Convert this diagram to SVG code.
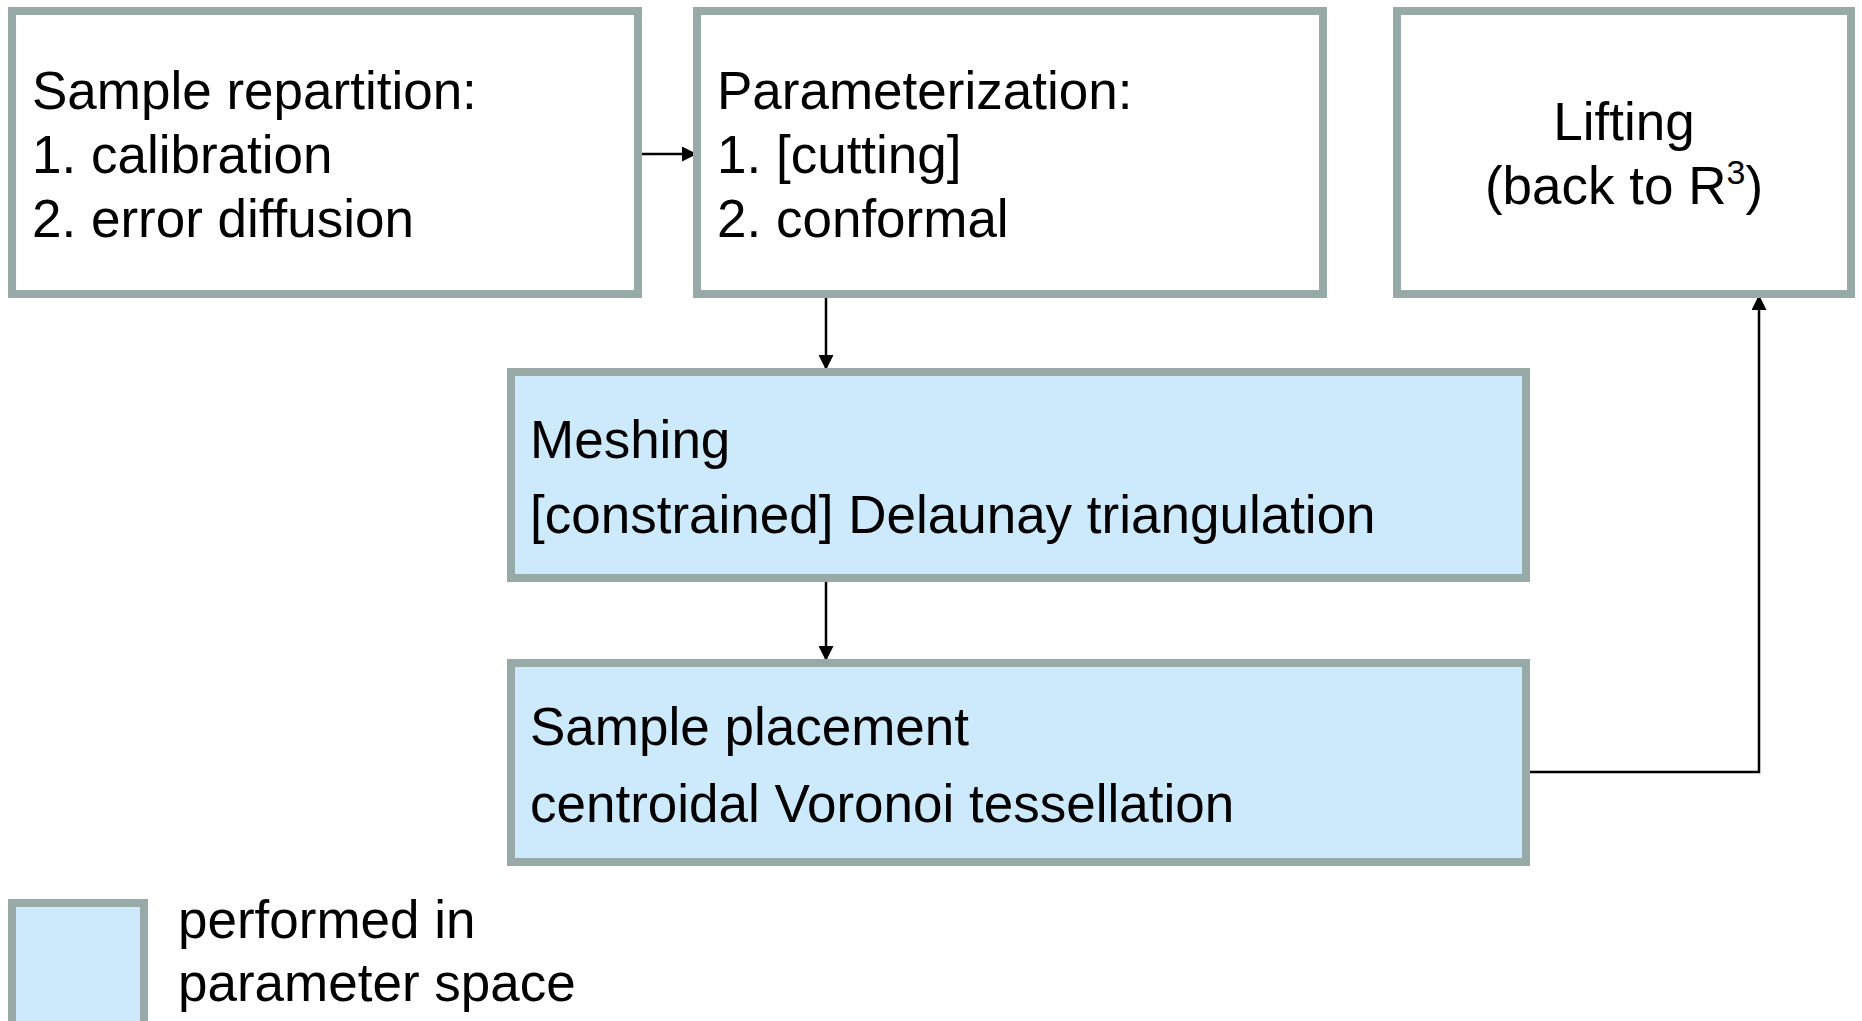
<svg xmlns="http://www.w3.org/2000/svg" width="1862" height="1021" viewBox="0 0 1862 1021">
<style>
.box{fill:#ffffff;stroke:#97aaa8;stroke-width:8}
.blue{fill:#cdeafc;stroke:#97aaa8;stroke-width:8}
.t{font-family:"Liberation Sans",Arial,sans-serif;font-size:53px;fill:#000}
.c{text-anchor:middle}
.conn{fill:none;stroke:#000;stroke-width:2.5}
</style>
<defs>
<marker id="ah" viewBox="0 0 15 15" refX="15" refY="7.5" markerWidth="15" markerHeight="15" markerUnits="userSpaceOnUse" orient="auto">
<path d="M0,0 L15,7.5 L0,15 z" fill="#000"/>
</marker>
</defs>
<rect width="1862" height="1021" fill="#fff"/>
<g id="connectors">
<line class="conn" x1="642" y1="154" x2="697" y2="154" marker-end="url(#ah)"/>
<line class="conn" x1="826" y1="298" x2="826" y2="370" marker-end="url(#ah)"/>
<line class="conn" x1="826" y1="582" x2="826" y2="661" marker-end="url(#ah)"/>
<polyline class="conn" points="1530,772 1759,772 1759,295" marker-end="url(#ah)"/>
</g>
<g id="sample-repartition">
<rect class="box" x="12" y="11" width="626" height="283"/>
<text class="t" x="32" y="109">Sample repartition:</text>
<text class="t" x="32" y="173">1. calibration</text>
<text class="t" x="32" y="237">2. error diffusion</text>
</g>
<g id="parameterization">
<rect class="box" x="697" y="11" width="626" height="283"/>
<text class="t" x="717" y="109">Parameterization:</text>
<text class="t" x="717" y="173">1. [cutting]</text>
<text class="t" x="717" y="237">2. conformal</text>
</g>
<g id="lifting">
<rect class="box" x="1397" y="11" width="454" height="283"/>
<text class="t c" x="1624" y="140">Lifting</text>
<text class="t c" x="1624" y="204">(back to R<tspan font-size="34" dy="-20">3</tspan><tspan dy="20">)</tspan></text>
</g>
<g id="meshing">
<rect class="blue" x="511" y="372" width="1015" height="206"/>
<text class="t" x="530" y="458">Meshing</text>
<text class="t" x="530" y="533">[constrained] Delaunay triangulation</text>
</g>
<g id="sample-placement">
<rect class="blue" x="511" y="663" width="1015" height="199"/>
<text class="t" x="530" y="745">Sample placement</text>
<text class="t" x="530" y="822">centroidal Voronoi tessellation</text>
</g>
<g id="legend">
<rect class="blue" x="12" y="903" width="132" height="130"/>
<text class="t" x="178" y="938">performed in</text>
<text class="t" x="178" y="1001">parameter space</text>
</g>
</svg>
